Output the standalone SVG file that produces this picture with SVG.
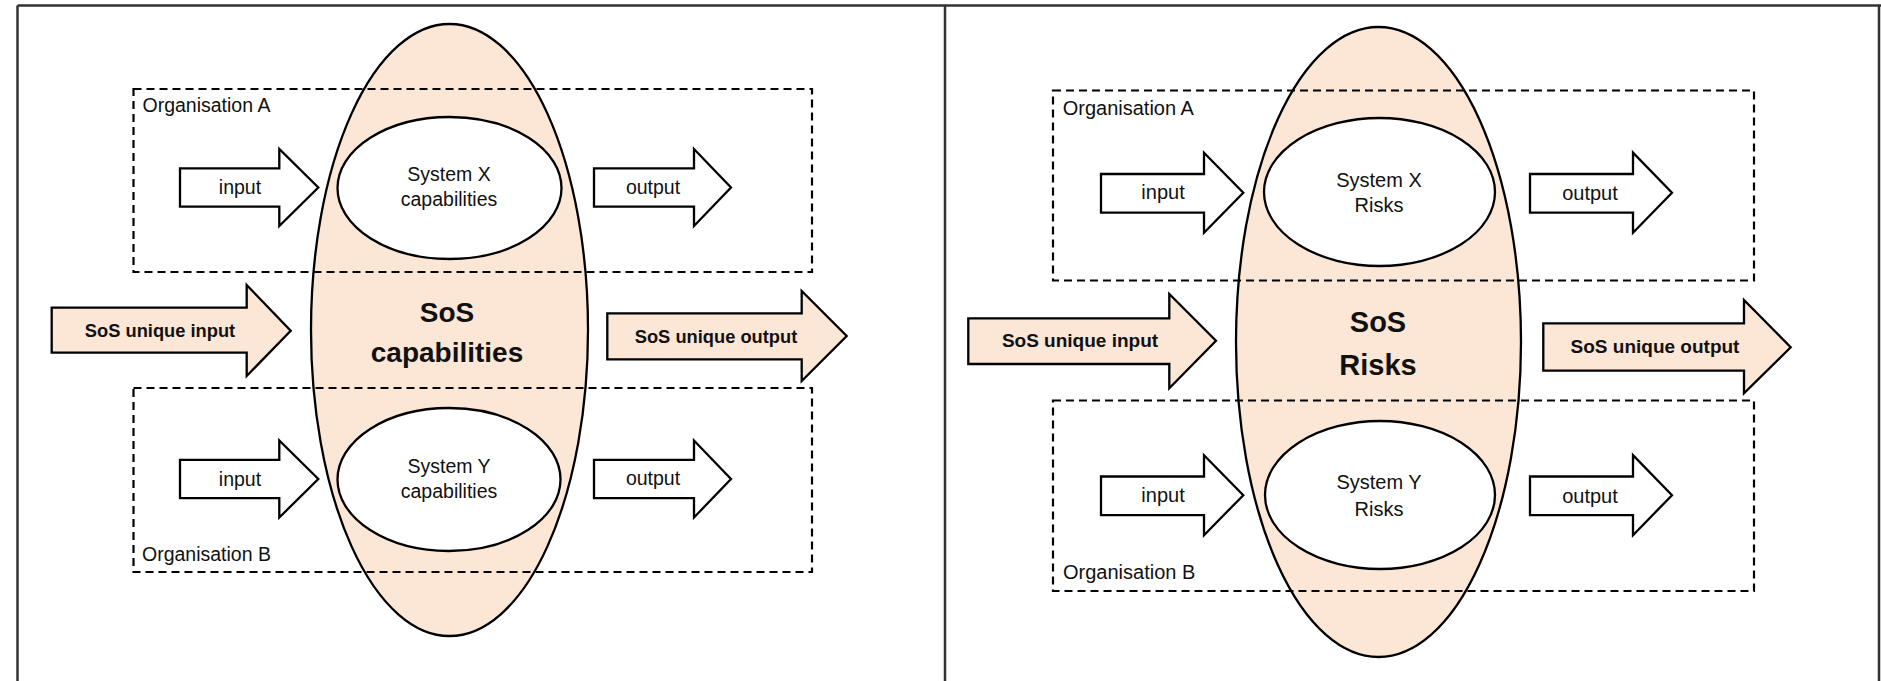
<svg xmlns="http://www.w3.org/2000/svg" width="1881" height="681" viewBox="0 0 1881 681">
  <style>
    .frame { fill: none; stroke: #333333; stroke-width: 2.5; }
    .sos { fill: #FCE6D6; stroke: #000000; stroke-width: 2.3; }
    .sys { fill: #FFFFFF; stroke: #000000; stroke-width: 2.3; }
    .org { fill: none; stroke: #000000; stroke-width: 2.2; stroke-dasharray: 8 5; }
    .arrow { fill: #FFFFFF; stroke: #000000; stroke-width: 2.3; stroke-linejoin: miter; }
    .arrow-sos { fill: #FCE6D6; stroke: #000000; stroke-width: 2.3; stroke-linejoin: miter; }
    text { font-family: "Liberation Sans", Arial, sans-serif; fill: #111111; }
    .l { font-size: 19.5px; }
    .r { font-size: 20px; }
    .c { text-anchor: middle; }
    .bl { font-size: 18.3px; font-weight: bold; text-anchor: middle; }
    .br { font-size: 19px; font-weight: bold; text-anchor: middle; }
    .big { font-size: 28px; font-weight: bold; text-anchor: middle; }
    .bigr { font-size: 29px; font-weight: bold; text-anchor: middle; }
  </style>

  <!-- table frame -->
  <g id="frame">
    <line class="frame" x1="17.5" y1="5.5" x2="1881" y2="5.5"/>
    <line class="frame" x1="17.5" y1="5.5" x2="17.5" y2="681"/>
    <line class="frame" x1="945" y1="5.5" x2="945" y2="681"/>
    <line class="frame" x1="1879" y1="5.5" x2="1879" y2="681"/>
  </g>

  <!-- ===== left panel: capabilities ===== -->
  <g id="sos-capabilities">
    <ellipse class="sos" cx="449.5" cy="330" rx="138.5" ry="306"/>
  </g>

  <g id="org-a-left">
    <rect class="org" x="133.5" y="89" width="678.5" height="183"/>
    <text class="l" x="142.5" y="112">Organisation A</text>
  </g>
  <g id="org-b-left">
    <rect class="org" x="133.5" y="388" width="678.5" height="184"/>
    <text class="l" x="142" y="560.5">Organisation B</text>
  </g>

  <g id="sos-capabilities-label">
    <text class="big" x="447" y="321.7">SoS</text>
    <text class="big" x="447" y="361.7">capabilities</text>
  </g>

  <g id="system-x-capabilities">
    <ellipse class="sys" cx="449.5" cy="188" rx="112" ry="71"/>
    <text class="l c" x="449" y="180.5">System X</text>
    <text class="l c" x="449" y="206">capabilities</text>
  </g>
  <g id="system-y-capabilities">
    <ellipse class="sys" cx="449" cy="479.5" rx="111.5" ry="71.5"/>
    <text class="l c" x="449" y="472.5">System Y</text>
    <text class="l c" x="449" y="498">capabilities</text>
  </g>

  <g id="flows-left">
    <g id="input-x-left">
      <path class="arrow" d="M180,168.3 H279.3 V149 L318.3,187.5 L279.3,226 V206.7 H180 Z"/>
      <text class="l c" x="240" y="194">input</text>
    </g>
    <g id="output-x-left">
      <path class="arrow" d="M594,168.3 H694 V149 L731,187.5 L694,226 V206.7 H594 Z"/>
      <text class="l c" x="653" y="193.5">output</text>
    </g>
    <g id="input-y-left">
      <path class="arrow" d="M180,459.8 H279.3 V440.5 L318.3,479 L279.3,517.5 V498.2 H180 Z"/>
      <text class="l c" x="240" y="485.5">input</text>
    </g>
    <g id="output-y-left">
      <path class="arrow" d="M594,459.8 H694 V440.5 L731,479 L694,517.5 V498.2 H594 Z"/>
      <text class="l c" x="653" y="485">output</text>
    </g>
    <g id="sos-input-left">
      <path class="arrow-sos" d="M51.7,307.7 H246.7 V285 L290.7,330.7 L246.7,376 V352.7 H51.7 Z"/>
      <text class="bl" x="160" y="336.7">SoS unique input</text>
    </g>
    <g id="sos-output-left">
      <path class="arrow-sos" d="M607.3,313.3 H801.7 V291 L846.7,336 L801.7,381 V359.3 H607.3 Z"/>
      <text class="bl" x="716" y="343.3">SoS unique output</text>
    </g>
  </g>

  <!-- ===== right panel: risks ===== -->
  <g id="sos-risks">
    <ellipse class="sos" cx="1378.5" cy="342" rx="142.5" ry="315"/>
  </g>

  <g id="org-a-right">
    <rect class="org" x="1053" y="90.5" width="701" height="190"/>
    <text class="r" x="1062.7" y="115">Organisation A</text>
  </g>
  <g id="org-b-right">
    <rect class="org" x="1053" y="400.5" width="701" height="190.5"/>
    <text class="r" x="1063" y="578.6">Organisation B</text>
  </g>

  <g id="sos-risks-label">
    <text class="bigr" x="1378" y="332.3">SoS</text>
    <text class="bigr" x="1378" y="374.5">Risks</text>
  </g>

  <g id="system-x-risks">
    <ellipse class="sys" cx="1379.5" cy="192" rx="115.5" ry="74"/>
    <text class="r c" x="1379" y="186.7">System X</text>
    <text class="r c" x="1379" y="212">Risks</text>
  </g>
  <g id="system-y-risks">
    <ellipse class="sys" cx="1380" cy="495" rx="115" ry="74"/>
    <text class="r c" x="1379" y="489">System Y</text>
    <text class="r c" x="1379" y="515.5">Risks</text>
  </g>

  <g id="flows-right">
    <g id="input-x-right">
      <path class="arrow" d="M1101,174 H1204 V152.7 L1243.3,192.7 L1204,232.7 V212.7 H1101 Z"/>
      <text class="r c" x="1163" y="199.3">input</text>
    </g>
    <g id="output-x-right">
      <path class="arrow" d="M1530,174 H1633 V152.7 L1672,192.7 L1633,232.7 V212.7 H1530 Z"/>
      <text class="r c" x="1590" y="199.8">output</text>
    </g>
    <g id="input-y-right">
      <path class="arrow" d="M1101,476.5 H1204 V455.2 L1243.3,495.2 L1204,535.2 V515.2 H1101 Z"/>
      <text class="r c" x="1163" y="502">input</text>
    </g>
    <g id="output-y-right">
      <path class="arrow" d="M1530,476.5 H1633 V455.2 L1672,495.2 L1633,535.2 V515.2 H1530 Z"/>
      <text class="r c" x="1590" y="502.5">output</text>
    </g>
    <g id="sos-input-right">
      <path class="arrow-sos" d="M968.3,318.3 H1169.3 V294 L1216,340.7 L1169.3,388.3 V364 H968.3 Z"/>
      <text class="br" x="1080" y="346.7">SoS unique input</text>
    </g>
    <g id="sos-output-right">
      <path class="arrow-sos" d="M1543.3,323.3 H1744 V300 L1790.7,347.3 L1744,393.3 V370.7 H1543.3 Z"/>
      <text class="br" x="1655" y="353.3">SoS unique output</text>
    </g>
  </g>
</svg>
